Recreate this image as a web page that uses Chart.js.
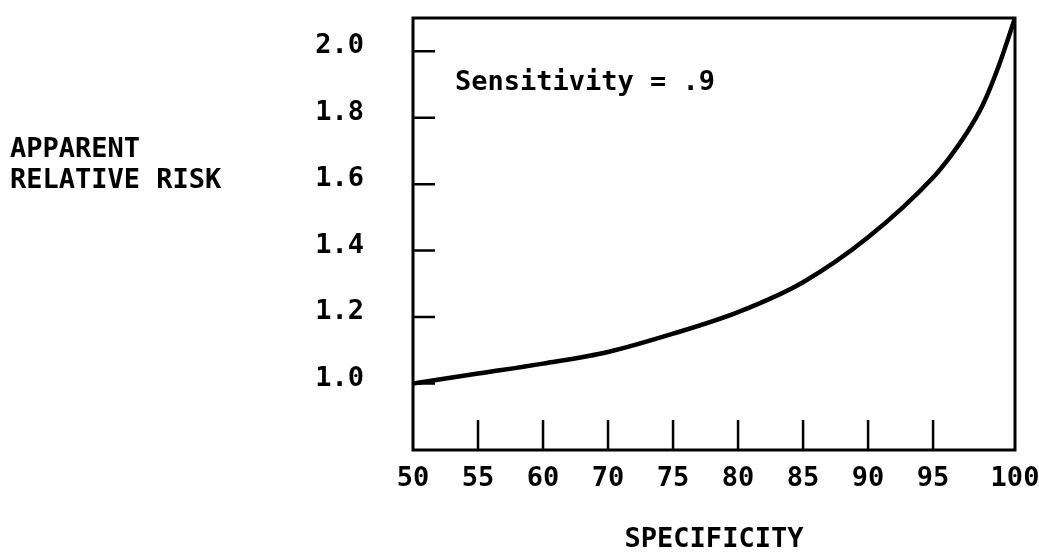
<!DOCTYPE html>
<html>
<head>
<meta charset="utf-8">
<script src="https://cdn.jsdelivr.net/npm/chart.js@4"></script>
<style>
html,body{margin:0;padding:0;background:#fff;}
</style>
</head>
<body>
<canvas id="riskchart" width="1039" height="553"></canvas>
<script>
// tick labels along the specificity axis, as printed
var specLabels = ['50','55','60','70','75','80','85','90','95','100'];
// points: specificity and apparent relative risk
var curveSpec = [50, 55, 60, 70, 75, 80, 85, 90, 95, 96, 97, 98, 99, 100];
var curveRisk = [1.00, 1.03, 1.06, 1.095, 1.15, 1.215, 1.305, 1.44, 1.62, 1.68, 1.75, 1.835, 1.955, 2.10];
var riskTicks = [1.0, 1.2, 1.4, 1.6, 1.8, 2.0];
var yMin = 0.8, yMax = 2.1;
var sensitivityNote = 'Sensitivity = .9';
var yTitle = ['APPARENT', 'RELATIVE RISK'];
var xTitle = 'SPECIFICITY';

var fontName = 'DejaVu Sans Mono';
var fontWeight = 'bold';
// the printed axis spaces labels evenly, the last gap (95-100) is wider
var lastGap = 1.26;

function slotOf(spec){
    var vals = specLabels.map(Number);
    for (var i = 0; i < vals.length - 1; i++) {
        if (spec <= vals[i+1]) {
            var w = (i == vals.length - 2) ? lastGap : 1;
            return i + w * (spec - vals[i]) / (vals[i+1] - vals[i]);
        }
    }
    return vals.length - 2 + lastGap;
}

var points = curveSpec.map(function(s, i){
    return {x: slotOf(s), y: curveRisk[i]};
});

var framePlugin = {
    id: 'frame',
    afterDraw: function(chart){
        var c = chart.ctx, a = chart.chartArea;
        var xs = chart.scales.x, ys = chart.scales.y;
        c.save();
        c.strokeStyle = '#000';
        c.lineWidth = 3;
        c.strokeRect(a.left, a.top, a.right - a.left, a.bottom - a.top);
        c.lineWidth = 2.5;
        c.beginPath();
        specLabels.slice(1, -1).forEach(function(l){
            var px = xs.getPixelForValue(slotOf(+l));
            c.moveTo(px, a.bottom);
            c.lineTo(px, a.bottom - 30);
        });
        riskTicks.forEach(function(v){
            var py = ys.getPixelForValue(v);
            c.moveTo(a.left, py);
            c.lineTo(a.left + 22, py);
        });
        c.stroke();
        c.fillStyle = '#000';
        c.font = fontWeight + ' 27px "' + fontName + '"';
        c.textAlign = 'left';
        c.textBaseline = 'alphabetic';
        c.fillText(sensitivityNote, a.left + 42, a.top + 72);
        c.fillText(yTitle[0], 10, 157);
        c.fillText(yTitle[1], 10, 188);
        c.restore();
    }
};

var ctx = document.getElementById('riskchart').getContext('2d');
var myChart = new Chart(ctx, {
    type: 'line',
    data: {
        datasets: [{
            data: points,
            borderColor: '#000',
            borderWidth: 4.5,
            pointRadius: 0,
            cubicInterpolationMode: 'monotone',
            fill: false
        }]
    },
    options: {
        responsive: false,
        animation: false,
        layout: {padding: {top: 18, right: 24, left: 0, bottom: 0}},
        plugins: {
            legend: {display: false},
            tooltip: {enabled: false}
        },
        scales: {
            x: {
                type: 'linear',
                min: 0,
                max: slotOf(100),
                afterBuildTicks: function(s){
                    s.ticks = specLabels.map(function(l){ return {value: slotOf(+l)}; });
                },
                afterFit: function(s){
                    s.height = 103;
                    s.paddingLeft = 0;
                    s.paddingRight = 0;
                },
                grid: {display: false},
                border: {display: false},
                ticks: {
                    autoSkip: false,
                    maxRotation: 0,
                    padding: 5,
                    color: '#000',
                    font: {family: fontName, size: 27, weight: fontWeight},
                    callback: function(v, i){ return specLabels[i]; }
                },
                title: {
                    display: true,
                    text: xTitle,
                    color: '#000',
                    font: {family: fontName, size: 27, weight: fontWeight, lineHeight: 1},
                    padding: 0
                }
            },
            y: {
                min: yMin,
                max: yMax,
                afterBuildTicks: function(s){
                    s.ticks = riskTicks.map(function(v){ return {value: v}; });
                },
                afterFit: function(s){
                    s.width = 413;
                    s.paddingTop = 0;
                    s.paddingBottom = 0;
                },
                grid: {display: false},
                border: {display: false},
                ticks: {
                    padding: 41,
                    labelOffset: -5,
                    color: '#000',
                    font: {family: fontName, size: 27, weight: fontWeight},
                    callback: function(v){ return v.toFixed(1); }
                }
            }
        }
    },
    plugins: [framePlugin]
});
</script>
</body>
</html>
